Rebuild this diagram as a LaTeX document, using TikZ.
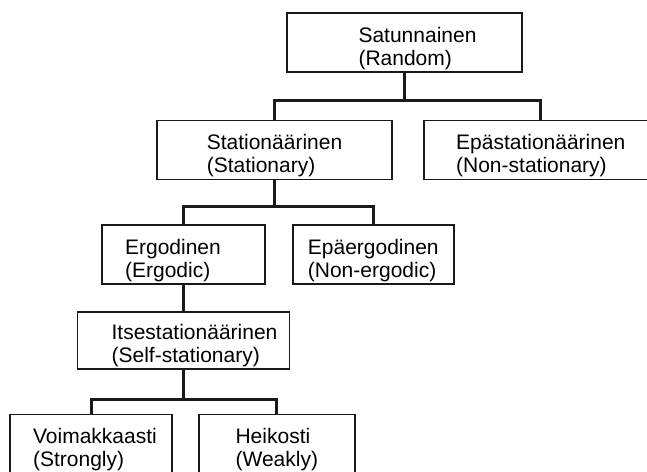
\documentclass[tikz,border=0pt]{standalone}
\usepackage{fontspec}
\setmainfont{Liberation Sans}
\usetikzlibrary{positioning}
\newcommand{\twolines}[3][0pt]{\hspace*{#1}\raisebox{-6.5pt}[\height][\depth]{\begin{tabular}{@{}l@{}}#2\\#3\end{tabular}}}
\tikzset{class node/.style={draw=black!90,line width=1.8pt,minimum height=59pt,inner sep=0pt,font=\fontsize{21}{23}\selectfont},
link/.style={line width=3pt,draw=black!90},
}

\begin{document}
\begin{tikzpicture}[x=1pt,y=-1pt,node distance=26pt]
	\useasboundingbox[fill=white] (0,0) rectangle (647,471);
	\clip (0,0) rectangle (647,471);
	\node[class node,minimum width=235pt] (random) at (404.5,42.5) {\twolines[26pt]{Satunnainen}{(Random)}};
	\node[class node,minimum width=235pt] (stat) at (274.5,150) {\twolines{Stationäärinen}{(Stationary)}};
	\node[class node,minimum width=234pt] (nonstat) [right = 30pt of stat] {\twolines{Epästationäärinen}{(Non-stationary)}};
	\node[class node,minimum width=163pt] (ergodic) at (183.5,254.5) {\twolines[-21pt]{Ergodinen}{(Ergodic)}};
	\node[class node,minimum width=161pt] (nonergodic) [right = of ergodic] {\twolines{Epäergodinen}{(Non-ergodic)}};
	\node[class node,minimum width=212pt,minimum height=57pt] (selfstat) [below = of ergodic] {\twolines[22pt]{Itsestationäärinen}{(Self-stationary)}};
	\node[class node,minimum width=162pt] (strong) at (91,444) {\twolines[8pt]{Voimakkaasti}{(Strongly)}};
	\node[class node,minimum width=156pt] (weak) [right = 25pt of strong] {\twolines{Heikosti}{(Weakly)}};
	
	\draw[link] (random.south) -- ++(0,28) -| (stat.north);
	\draw[link] (random.south) -- ++(0,28) -| (nonstat.north);
	\draw[link] (stat.south) -- ++(0,26) -| (ergodic.north);
	\draw[link] (stat.south) -- ++(0,26) -| (nonergodic.north);
	\draw[link] (ergodic) -- (selfstat);
	\draw[link] (selfstat.south) -- ++(0,30) -| (strong.north);
	\draw[link] (selfstat.south) -- ++(0,30) -| (weak.north);
\end{tikzpicture}
\end{document}
